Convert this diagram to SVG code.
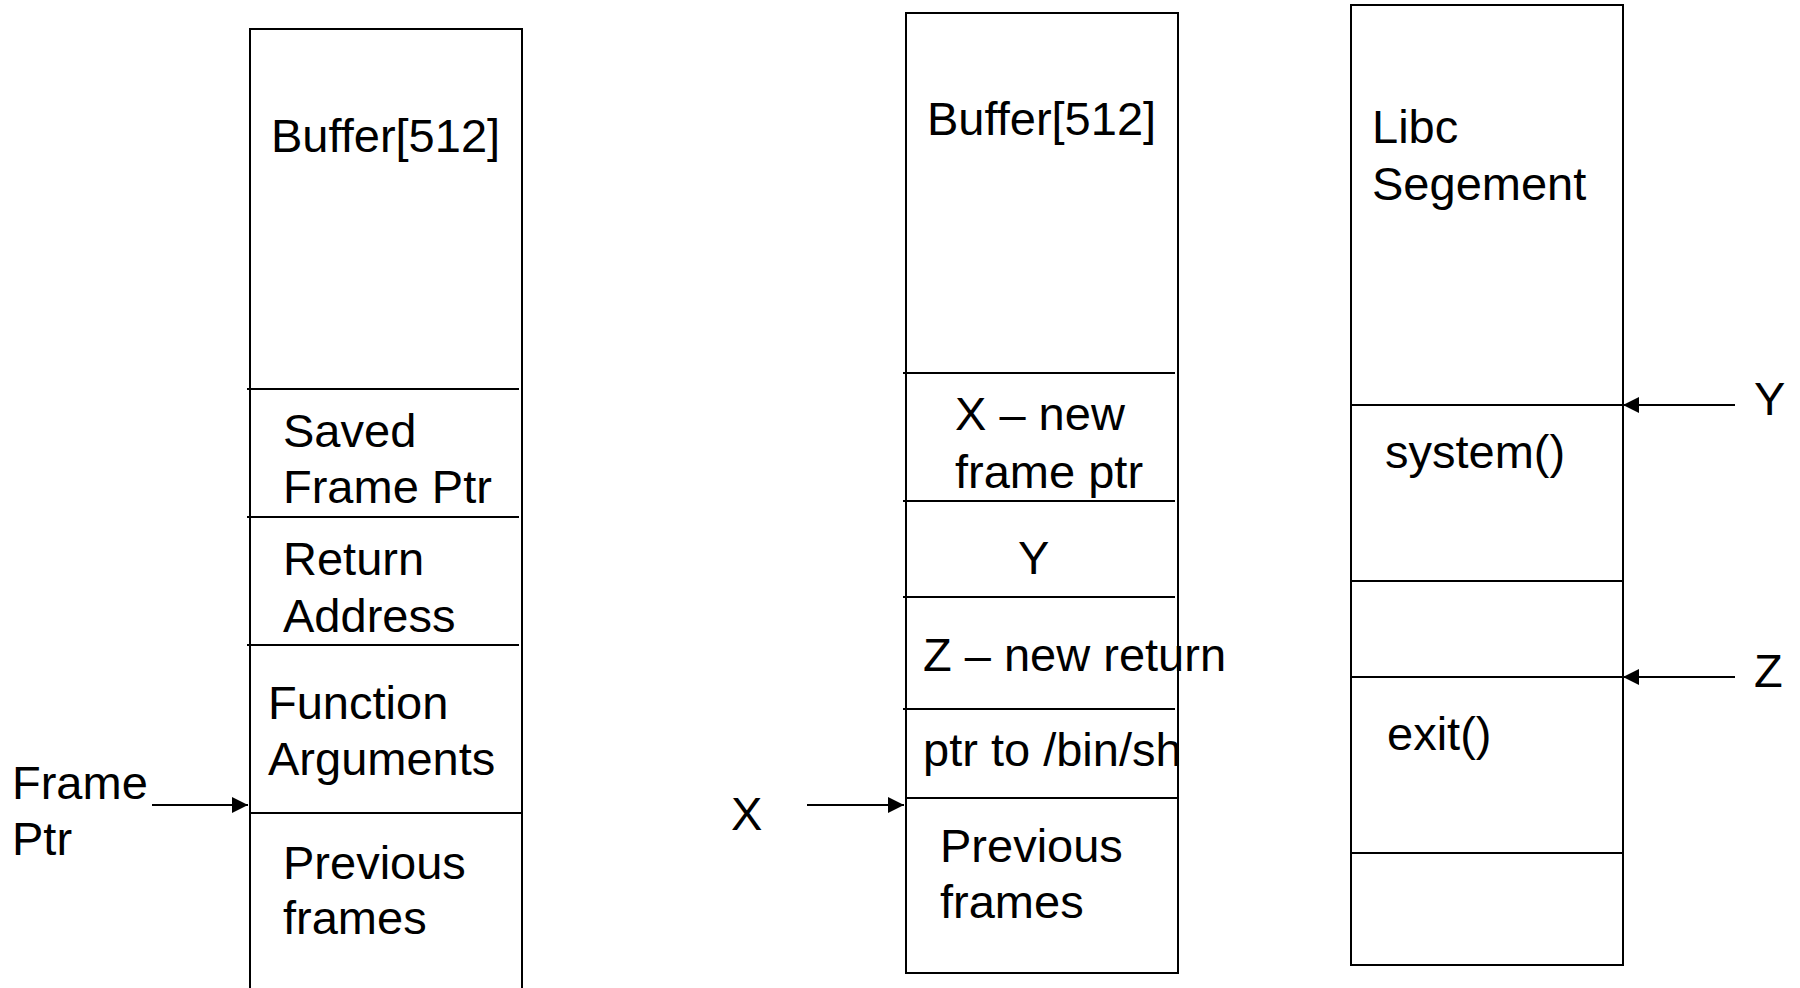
<svg xmlns="http://www.w3.org/2000/svg" width="1800" height="988" viewBox="0 0 1800 988">
<style>
.box{fill:#fff;stroke:#000;stroke-width:2}
.div{stroke:#000;stroke-width:2;fill:none}
.t{font-family:"Liberation Sans",Arial,sans-serif;font-size:47px;fill:#000}
.arr{stroke:#000;stroke-width:2;fill:none}
</style>
<defs>
<marker id="ah" markerUnits="userSpaceOnUse" markerWidth="16" markerHeight="16" refX="16" refY="8" orient="auto">
<path d="M0,0 L16,8 L0,16 z" fill="#000"/>
</marker>
</defs>
<rect width="1800" height="988" fill="#fff"/>

<g id="stack-normal">
<rect class="box" x="250" y="29" width="272" height="980"/>
<line class="div" x1="247" y1="389" x2="519" y2="389"/>
<line class="div" x1="247" y1="517" x2="519" y2="517"/>
<line class="div" x1="247" y1="645" x2="519" y2="645"/>
<line class="div" x1="250" y1="813" x2="522" y2="813"/>
<text class="t" x="271" y="152">Buffer[512]</text>
<text class="t" x="283" y="447">Saved</text>
<text class="t" x="283" y="503">Frame Ptr</text>
<text class="t" x="283" y="575">Return</text>
<text class="t" x="283" y="632">Address</text>
<text class="t" x="268" y="719">Function</text>
<text class="t" x="268" y="775">Arguments</text>
<text class="t" x="283" y="879">Previous</text>
<text class="t" x="283" y="934">frames</text>
</g>

<g id="label-frame-ptr">
<text class="t" x="12" y="799">Frame</text>
<text class="t" x="12" y="855">Ptr</text>
</g>

<g id="stack-attack">
<rect class="box" x="906" y="13" width="272" height="960"/>
<line class="div" x1="903" y1="373" x2="1175" y2="373"/>
<line class="div" x1="903" y1="501" x2="1175" y2="501"/>
<line class="div" x1="903" y1="597" x2="1175" y2="597"/>
<line class="div" x1="903" y1="709" x2="1175" y2="709"/>
<line class="div" x1="906" y1="798" x2="1178" y2="798"/>
<text class="t" x="927" y="135">Buffer[512]</text>
<text class="t" x="955" y="430">X – new</text>
<text class="t" x="955" y="488">frame ptr</text>
<text class="t" x="1018" y="574">Y</text>
<text class="t" x="923" y="671">Z – new return</text>
<text class="t" x="923" y="766">ptr to /bin/sh</text>
<text class="t" x="940" y="862">Previous</text>
<text class="t" x="940" y="918">frames</text>
</g>

<g id="label-x">
<text class="t" x="731" y="830">X</text>
</g>

<g id="stack-libc">
<rect class="box" x="1351" y="5" width="272" height="960"/>
<line class="div" x1="1351" y1="405" x2="1623" y2="405"/>
<line class="div" x1="1351" y1="581" x2="1623" y2="581"/>
<line class="div" x1="1351" y1="677" x2="1623" y2="677"/>
<line class="div" x1="1351" y1="853" x2="1623" y2="853"/>
<text class="t" x="1372" y="143">Libc</text>
<text class="t" x="1372" y="200">Segement</text>
<text class="t" x="1385" y="468">system()</text>
<text class="t" x="1387" y="750">exit()</text>
</g>

<g id="label-y">
<text class="t" x="1754" y="415">Y</text>
</g>
<g id="label-z">
<text class="t" x="1754" y="687">Z</text>
</g>

<g id="connectors">
<line class="arr" x1="152" y1="805" x2="248" y2="805" marker-end="url(#ah)"/>
<line class="arr" x1="807" y1="805" x2="904" y2="805" marker-end="url(#ah)"/>
<line class="arr" x1="1735" y1="405" x2="1623" y2="405" marker-end="url(#ah)"/>
<line class="arr" x1="1735" y1="677" x2="1623" y2="677" marker-end="url(#ah)"/>
</g>
</svg>
